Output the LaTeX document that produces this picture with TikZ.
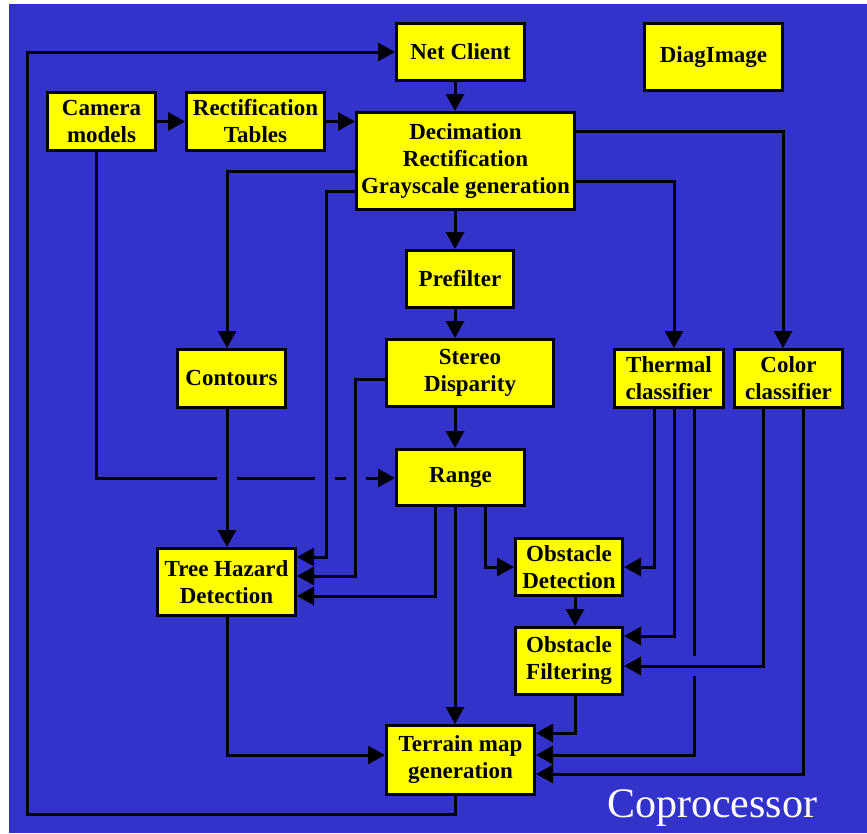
\documentclass[tikz,border=0pt]{standalone}
\usepackage{fontspec}
\setmainfont{Liberation Serif}
\usetikzlibrary{arrows.meta}
\definecolor{bgblue}{RGB}{51,51,204}
\definecolor{boxyellow}{RGB}{255,255,0}

\begin{document}
\begin{tikzpicture}[x=1pt,y=-1pt,
  box/.style={draw=black, line width=3pt, fill=boxyellow, inner sep=0pt,
    align=center, text=black, font=\fontsize{23}{27}\selectfont\bfseries},
  link/.style={draw=black, line width=3pt},
  arr/.style={link, -{Triangle[length=17pt,width=18pt]}},
  gap/.style={fill=bgblue, draw=none}]
\useasboundingbox (0,0) rectangle (867,833);
\fill[white] (0,0) rectangle (867,833);
\fill[bgblue] (9,4) rectangle (867,833);

% processing blocks
\node[box, minimum width=128pt, minimum height=57pt] (netc) at (460.5,52) {Net Client};
\node[box, minimum width=138pt, minimum height=67pt] (diag) at (713.5,57) {DiagImage};
\node[box, minimum width=108pt, minimum height=58pt] (cam) at (101.5,121.5) {Camera\\models};
\node[box, minimum width=138pt, minimum height=58pt] (rect) at (255.5,121.5) {Rectification\\Tables};
\node[box, minimum width=218pt, minimum height=97pt] (deci) at (465.5,161) {Decimation\\Rectification\\Grayscale generation};
\node[box, minimum width=107pt, minimum height=57pt] (pref) at (460,279) {Prefilter};
\node[box, minimum width=167pt, minimum height=67pt] (stereo) at (470,373) {Stereo\\Disparity};
\node[box, minimum width=128pt, minimum height=56pt] (range) at (460.5,477.5) {Range};
\node[box, minimum width=108pt, minimum height=58pt] (cont) at (231.5,378.5) {Contours};
\node[box, minimum width=109pt, minimum height=58pt] (therm) at (669,378.5) {Thermal\\classifier};
\node[box, minimum width=108pt, minimum height=58pt] (color) at (788.5,378.5) {Color\\classifier};
\node[box, minimum width=138pt, minimum height=67pt] (tree) at (226.5,582) {Tree Hazard\\Detection};
\node[box, minimum width=107pt, minimum height=57pt] (obsd) at (569,567) {Obstacle\\Detection};
\node[box, minimum width=107pt, minimum height=67pt] (obsf) at (569,661) {Obstacle\\Filtering};
\node[box, minimum width=148pt, minimum height=69pt] (terr) at (460.5,760) {Terrain map\\generation};

\node[text=white, anchor=base, font=\fontsize{42}{42}\selectfont] (copro) at (712,817) {Coprocessor};

% camera models feed the range stage; this line passes under three others
\draw[arr] (cam.south -| 96,0) |- (range.west |- 0,478);
\fill[gap] (216.5,473) rectangle (236.5,483);
\fill[gap] (315,473) rectangle (335,483);
\fill[gap] (345.5,473) rectangle (365.5,483);

% main pipeline
\coordinate (spine) at (455,0);
\draw[arr] (cam) -- (rect);
\draw[arr] (rect.east) -- (rect.east -| deci.west);
\draw[arr] (netc.south -| spine) -- (deci.north -| spine);
\draw[arr] (deci.south -| spine) -- (pref.north -| spine);
\draw[arr] (pref.south -| spine) -- (stereo.north -| spine);
\draw[arr] (stereo.south -| spine) -- (range.north -| spine);
\draw[arr] (range.south -| spine) -- (terr.north -| spine);

% feedback to the net client
\draw[arr] (terr.south -| spine) -- (455,814) -- (27,814) -- (27,52) -- (netc.west);

% tree hazard branch
\draw[arr] (deci.west |- 0,171) -| (cont.north -| 227,0);
\draw[arr] (cont.south -| 227,0) -- (tree.north -| 227,0);
\draw[arr] (deci.west |- 0,191) -| (326,557) -- (tree.east |- 0,557);
\draw[arr] (stereo.west |- 0,379) -| (355,576) -- (tree.east |- 0,576);
\draw[arr] (range.south -| 435,0) |- (tree.east |- 0,596);
\draw[arr] (tree.south -| 227,0) |- (terr.west |- 0,755);

% obstacle branch
\draw[arr] (range.south -| 485,0) |- (obsd.west |- 0,567);
\draw[arr] (obsd.south -| 575,0) -- (obsf.north -| 575,0);
\draw[arr] (obsf.south -| 575,0) |- (terr.east |- 0,733);

% classifiers
\draw[arr] (deci.east |- 0,181) -| (therm.north -| 674,0);
\draw[arr] (deci.east |- 0,131) -| (color.north -| 783,0);
\draw[arr] (therm.south -| 654,0) |- (obsd.east |- 0,567);
\draw[arr] (therm.south -| 674,0) |- (obsf.east |- 0,636);
\draw[arr] (therm.south -| 694,0) |- (terr.east |- 0,755);
\fill[gap] (689,656) rectangle (699,676);
\draw[arr] (color.south -| 763,0) |- (obsf.east |- 0,666);
\draw[arr] (color.south -| 803,0) |- (terr.east |- 0,774);
\end{tikzpicture}
\end{document}
